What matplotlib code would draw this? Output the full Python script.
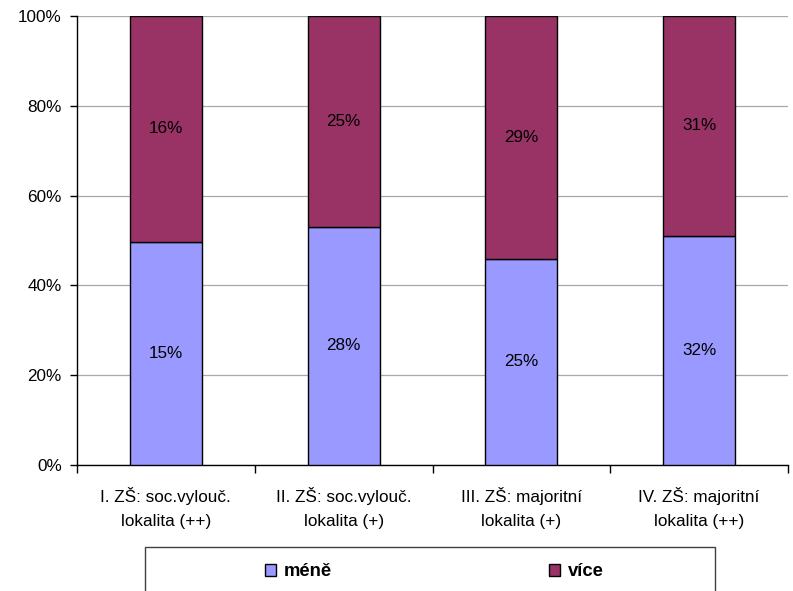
import numpy as np
import matplotlib
matplotlib.use("Agg")
import matplotlib.pyplot as plt
from matplotlib.patches import Rectangle
from matplotlib.ticker import FixedLocator, PercentFormatter

plt.rcParams["font.family"] = ["Liberation Sans", "DejaVu Sans"]

# data (labels show them rounded)
categories = [
    "I. ZŠ: soc.vylouč.\nlokalita (++)",
    "II. ZŠ: soc.vylouč.\nlokalita (+)",
    "III. ZŠ: majoritní\nlokalita (+)",
    "IV. ZŠ: majoritní\nlokalita (++)",
]
mene = np.array([15.4, 28.2, 24.8, 32.2])
vice = np.array([15.6, 24.9, 29.2, 30.9])
series_names = ["méně", "více"]
colors = ["#9999FF", "#993366"]

W, H = 793, 591
fig = plt.figure(figsize=(W / 100, H / 100), dpi=100)
ax = fig.add_axes([77 / W, 1 - 465 / H, (788 - 77) / W, (465 - 16) / H])

total = mene + vice
p_mene = mene / total * 100
p_vice = vice / total * 100
x = np.arange(len(categories))
width = 0.405

b1 = ax.bar(x, p_mene, width, color=colors[0], edgecolor="black", linewidth=1,
            label=series_names[0], zorder=3)
b2 = ax.bar(x, p_vice, width, bottom=p_mene, color=colors[1], edgecolor="black",
            linewidth=1, label=series_names[1], zorder=3)

fs = 12.3
for i in range(len(x)):
    ax.text(x[i], p_mene[i] / 2, f"{mene[i]:.0f}%", ha="center", va="center",
            fontsize=fs, zorder=4)
    ax.text(x[i], p_mene[i] + p_vice[i] / 2, f"{vice[i]:.0f}%", ha="center",
            va="center", fontsize=fs, zorder=4)

ax.set_xlim(-0.5, len(x) - 0.5)
ax.set_ylim(0, 100)
ax.yaxis.set_major_locator(FixedLocator([0, 20, 40, 60, 80, 100]))
ax.yaxis.set_major_formatter(PercentFormatter(decimals=0))
ax.yaxis.grid(True, color="#A8A8A8", linewidth=0.9, zorder=0)
ax.set_axisbelow(True)

ax.set_xticks(x)
ax.set_xticklabels(categories, fontsize=fs, linespacing=1.75)
ax.set_xticks(np.arange(-0.5, len(x)), minor=True)
ax.tick_params(axis="x", which="major", length=0, pad=16)
ax.tick_params(axis="x", which="minor", length=6, width=1, direction="out")
ax.tick_params(axis="y", length=5, width=1, direction="out", labelsize=fs, pad=6)

for s in ["top", "right"]:
    ax.spines[s].set_visible(False)
for s in ["left", "bottom"]:
    ax.spines[s].set_linewidth(1)

# legend frame running off the bottom edge
fig.add_artist(Rectangle((145 / W, 1 - 600 / H), (715 - 145) / W, (600 - 547) / H,
                         transform=fig.transFigure, facecolor="white",
                         edgecolor="#404040", linewidth=1, clip_on=False))
fig.legend(handles=[b1, b2], labels=series_names, loc="center left",
           bbox_to_anchor=(256 / W, 1 - 572 / H), ncol=2, frameon=False,
           borderpad=0, handlelength=0.58, handleheight=0.58, handletextpad=0.4,
           columnspacing=11.8, prop={"weight": "bold", "size": fs + 1})

fig.savefig("out.png", dpi=100)
